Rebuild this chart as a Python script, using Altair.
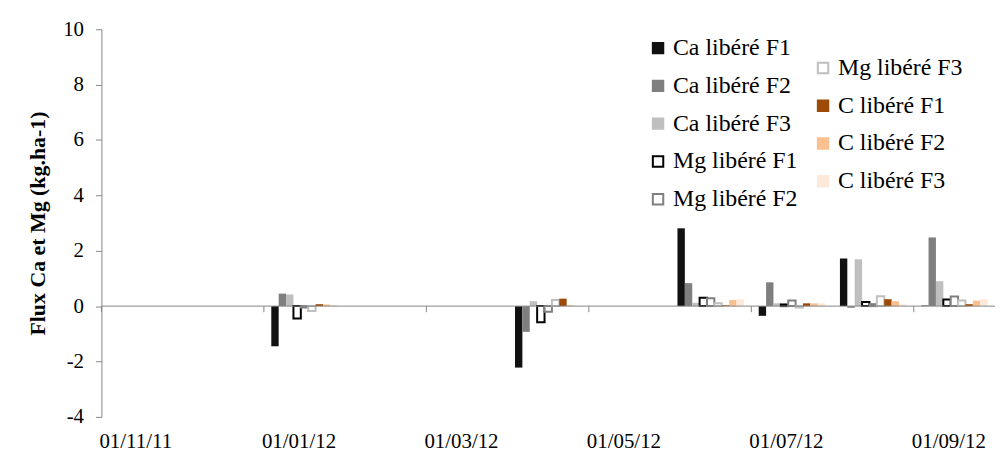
import altair as alt
import pandas as pd

months = ["01/11/11", "01/12/11", "01/01/12", "01/02/12", "01/03/12", "01/04/12",
          "01/05/12", "01/06/12", "01/07/12", "01/08/12", "01/09/12"]
tick_months = ["01/11/11", "01/01/12", "01/03/12", "01/05/12", "01/07/12", "01/09/12"]
series = ["Ca libéré F1", "Ca libéré F2", "Ca libéré F3",
          "Mg libéré F1", "Mg libéré F2", "Mg libéré F3",
          "C libéré F1", "C libéré F2", "C libéré F3"]
series_a = series[:5]
series_b = series[5:]

group_months = ["01/01/12", "01/04/12", "01/06/12", "01/07/12", "01/08/12", "01/09/12"]
ca_f1 = [-1.45, -2.22, 2.81, -0.35, 1.72, 0.02]
ca_f2 = [0.45, -0.93, 0.83, 0.86, -0.06, 2.48]
ca_f3 = [0.42, 0.18, 0.12, 0.10, 1.69, 0.90]
mg_f1 = [-0.45, -0.58, 0.30, 0.06, 0.15, 0.24]
mg_f2 = [-0.05, -0.20, 0.28, 0.20, 0.07, 0.35]
mg_f3 = [-0.18, 0.22, 0.10, -0.05, 0.36, 0.20]
c_f1 = [0.07, 0.27, 0.03, 0.10, 0.25, 0.07]
c_f2 = [0.06, 0.03, 0.22, 0.10, 0.18, 0.20]
c_f3 = [0.04, 0.01, 0.25, 0.10, 0.06, 0.25]

fills = ["#111111", "#7f7f7f", "#bfbfbf", "#ffffff", "#ffffff", "#ffffff",
         "#9c4a06", "#fac090", "#fde9d9"]
strokes = ["#111111", "#7f7f7f", "#bfbfbf", "#000000", "#7f7f7f", "#bfbfbf",
           "#9c4a06", "#fac090", "#fde9d9"]

values = [ca_f1, ca_f2, ca_f3, mg_f1, mg_f2, mg_f3, c_f1, c_f2, c_f3]
rows = []
for s, vals in zip(series, values):
    for m, v in zip(group_months, vals):
        rows.append({"month": m, "series": s, "value": v})
df = pd.DataFrame(rows)

FONT = "Liberation Serif"
GRAY = "#868686"

x_scale = alt.Scale(domain=months, paddingInner=0, paddingOuter=0)
x_axis = alt.Axis(labels=False, ticks=False, domain=False, grid=False, title=None)
x_enc = alt.X("month:N", scale=x_scale, axis=x_axis)
xoff_enc = alt.XOffset("series:N",
                       scale=alt.Scale(domain=series, paddingInner=0, paddingOuter=1))
y_enc = alt.Y("value:Q",
              scale=alt.Scale(domain=[-4, 10], nice=False, zero=False),
              axis=alt.Axis(values=list(range(-4, 11, 2)), grid=False,
                            labelExpr="datum.value < 0 ? '-' + abs(datum.value) : '' + datum.value",
                            domainColor=GRAY, tickColor=GRAY, tickSize=6,
                            labelFont=FONT, labelFontSize=21, labelColor="black",
                            labelPadding=12,
                            title="Flux Ca et Mg (kg.ha-1)", titleFont=FONT,
                            titleFontSize=22, titleFontWeight="bold", titleColor="black",
                            titlePadding=13))

sw = alt.condition("indexof(datum.series, 'Mg') == 0", alt.value(2), alt.value(0))


def legend(x, y):
    return alt.Legend(orient="none", legendX=x, legendY=y, title=None,
                      symbolType="square", symbolSize=110, symbolStrokeWidth=2,
                      labelFont=FONT, labelFontSize=24, labelColor="black",
                      labelOffset=3, rowPadding=14, padding=0)


bars_a = alt.Chart(df).transform_filter(
    alt.FieldOneOfPredicate(field="series", oneOf=series_a)
).mark_bar().encode(
    x=x_enc, xOffset=xoff_enc, y=y_enc,
    fill=alt.Fill("series:N", scale=alt.Scale(domain=series_a, range=fills[:5]),
                  legend=legend(548, 7)),
    stroke=alt.Stroke("series:N", scale=alt.Scale(domain=series_a, range=strokes[:5]),
                      legend=legend(548, 7)),
    strokeWidth=sw,
)

bars_b = alt.Chart(df).transform_filter(
    alt.FieldOneOfPredicate(field="series", oneOf=series_b)
).mark_bar().encode(
    x=x_enc, xOffset=xoff_enc, y=y_enc,
    fill=alt.Fill("series:N", scale=alt.Scale(domain=series_b, range=fills[5:]),
                  legend=legend(714, 27)),
    stroke=alt.Stroke("series:N", scale=alt.Scale(domain=series_b, range=strokes[5:]),
                      legend=legend(714, 27)),
    strokeWidth=sw,
)

zero = alt.Chart(pd.DataFrame({"value": [0]})).mark_rule(color=GRAY, strokeWidth=1).encode(
    y=y_enc
)

tick_df = pd.DataFrame({"month": tick_months})

ticks = alt.Chart(tick_df).mark_rule(color=GRAY, strokeWidth=1).encode(
    x=alt.X("month:N", bandPosition=0, scale=x_scale, axis=x_axis),
    y=alt.datum(0), y2=alt.datum(-0.22),
)

xlabels = alt.Chart(tick_df).mark_text(
    font=FONT, fontSize=21, color="black", align="left", baseline="middle", dx=-2
).encode(
    x=alt.X("month:N", bandPosition=0, scale=x_scale, axis=x_axis),
    y=alt.value(415),
    text="month:N",
)

chart = alt.layer(bars_a, bars_b, zero, ticks, xlabels).resolve_scale(
    fill="independent", stroke="independent"
).properties(
    width=899, height=390,
    autosize=alt.AutoSizeParams(type="none"),
    padding={"left": 94, "top": 20, "right": 2, "bottom": 36},
).configure(background="white").configure_view(strokeWidth=0)

chart.save("out.html", embed_options={"renderer": "svg", "actions": False})
